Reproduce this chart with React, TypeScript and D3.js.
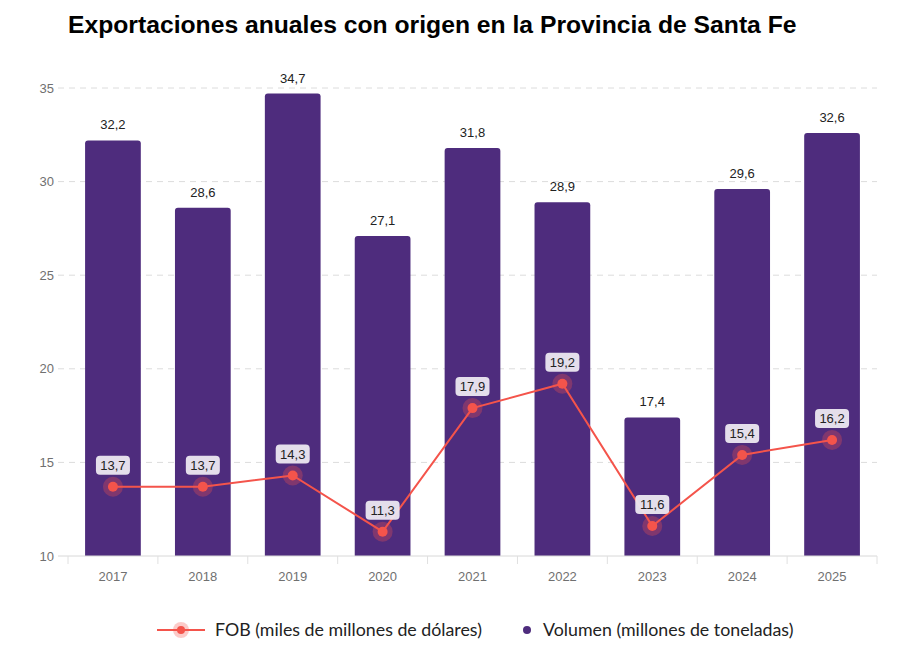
import React from "react";
import * as d3 from "d3";

const years = ["2017", "2018", "2019", "2020", "2021", "2022", "2023", "2024", "2025"];
const volumen = [32.2, 28.6, 34.7, 27.1, 31.8, 28.9, 17.4, 29.6, 32.6];
const fob = [13.7, 13.7, 14.3, 11.3, 17.9, 19.2, 11.6, 15.4, 16.2];
const yTicks = [10, 15, 20, 25, 30, 35];

const W = 900, H = 655;
const BAR = "#4e2c7d";
const RED = "#f4544b";
const fmt = (v: number) => v.toFixed(1).replace(".", ",");

export default function App() {
  const x = d3.scaleBand<string>().domain(years).range([68, 877]).paddingInner(0.38).paddingOuter(0.19);
  const y = d3.scaleLinear().domain([10, 35]).range([556, 88]);
  const step = x.step();
  const xc = (d: string) => (x(d) as number) + x.bandwidth() / 2;
  const line = d3.line<number>().x((_, i) => xc(years[i])).y((d) => y(d));
  const r = 3;
  const barPath = (x0: number, y0: number, w: number, h: number) =>
    `M${x0},${y0 + h}V${y0 + r}Q${x0},${y0} ${x0 + r},${y0}H${x0 + w - r}Q${x0 + w},${y0} ${x0 + w},${y0 + r}V${y0 + h}Z`;
  const tickF = "Liberation Sans, Arial, sans-serif";
  return (
    <svg width={W} height={H} style={{ position: "absolute", left: 0, top: 0, background: "#fff" }}>
      <text x={68} y={33} fontFamily={tickF} fontWeight="bold" fontSize={24.7} fill="#000">
        Exportaciones anuales con origen en la Provincia de Santa Fe
      </text>
      {yTicks.map((t) => (
        <g key={t}>
          {t > 10 && (
            <line x1={58} x2={877} y1={y(t)} y2={y(t)} stroke="#dcdcdc" strokeDasharray="6,5" />
          )}
          <text x={54} y={y(t) + 4.5} textAnchor="end" fontFamily={tickF} fontSize={13} fill="#707070">
            {t}
          </text>
        </g>
      ))}
      {years.map((yr, i) => (
        <path key={yr} d={barPath(x(yr) as number, y(volumen[i]), x.bandwidth(), y(10) - y(volumen[i]))} fill={BAR} />
      ))}
      <line x1={58} x2={877} y1={y(10)} y2={y(10)} stroke="#d8d8d8" />
      {years.map((yr, i) => (
        <line key={yr} x1={68 + i * step} x2={68 + i * step} y1={y(10)} y2={y(10) + 8} stroke="#e0e0e0" />
      ))}
      <line x1={877} x2={877} y1={y(10)} y2={y(10) + 8} stroke="#e0e0e0" />
      {years.map((yr) => (
        <text key={yr} x={xc(yr)} y={581} textAnchor="middle" fontFamily={tickF} fontSize={13} fill="#707070">
          {yr}
        </text>
      ))}
      {years.map((yr, i) => (
        <text key={yr} x={xc(yr)} y={y(volumen[i]) - 11} textAnchor="middle" fontFamily={tickF} fontSize={13} fill="#222">
          {fmt(volumen[i])}
        </text>
      ))}
      <path d={line(fob) || ""} fill="none" stroke={RED} strokeWidth={2} />
      {fob.map((v, i) => (
        <g key={i}>
          <circle cx={xc(years[i])} cy={y(v)} r={10} fill={RED} opacity={0.3} />
          <circle cx={xc(years[i])} cy={y(v)} r={5} fill={RED} />
        </g>
      ))}
      {fob.map((v, i) => (
        <g key={i}>
          <rect x={xc(years[i]) - 17} y={y(v) - 31} width={34} height={19} rx={4} fill="#ece8f1" opacity={0.95} />
          <text x={xc(years[i])} y={y(v) - 17} textAnchor="middle" fontFamily={tickF} fontSize={13} fill="#222">
            {fmt(v)}
          </text>
        </g>
      ))}
      <g fontFamily="Lato, sans-serif" fontSize={17.8} fill="#222">
        <line x1={157} x2={205} y1={630} y2={630} stroke={RED} strokeWidth={2} />
        <circle cx={181} cy={630} r={8} fill={RED} opacity={0.3} />
        <circle cx={181} cy={630} r={4} fill={RED} />
        <text x={215} y={636}>FOB (miles de millones de dólares)</text>
        <circle cx={527} cy={630} r={4} fill={BAR} />
        <text x={543} y={636}>Volumen (millones de toneladas)</text>
      </g>
    </svg>
  );
}
